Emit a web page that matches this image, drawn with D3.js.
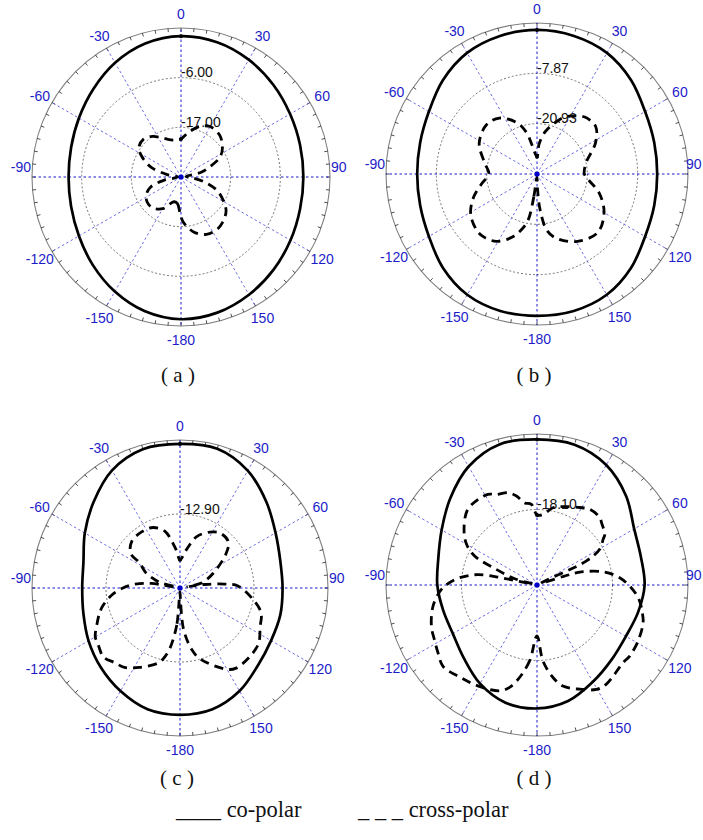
<!DOCTYPE html>
<html><head><meta charset="utf-8">
<script src="https://cdn.jsdelivr.net/npm/d3@7"></script>
<style>body{margin:0;background:#fff} svg{display:block}</style>
</head><body>
<svg id="chart" width="703" height="840"></svg>
<script>
// ---------- data ----------
const angleTicks = [0, 30, 60, 90, 120, 150, -180, -150, -120, -90, -60, -30];
const captions = ["( a )", "( b )", "( c )", "( d )"];
const legendLabels = ["____ co-polar", "_ _ _ cross-polar"];

// radial scale ranges (dB at centre, dB at outer circle) and grid rings (dB)
const domainA = [-28, 5],       ringsA = [-17.00, -6.00];
const domainB = [-33.99, 5.19], ringsB = [-20.93, -7.87];
const domainC = [-30.0, 4.2],   ringsC = [-12.90];
const domainD = [-36.2, 0],     ringsD = [-18.10];

// co-polar (dB), angles in degrees
const coAngles = [0, 15, 30, 45, 60, 75, 90, 105, 120, 135, 150, 165, 180, -165, -150, -135, -120, -105, -90, -75, -60, -45, -30, -15];
const coA = [3.2, 2.9, 2.0, 0.9, -0.1, -0.7, -0.9, -0.7, 0.0, 1.0, 2.1, 3.1, 3.5, 2.8, 1.3, -0.4, -1.9, -2.8, -3.1, -2.8, -1.9, -0.5, 1.2, 2.6];
const coB = [3.4, 3.1, 2.3, 0.5, -1.6, -2.5, -2.8, -2.5, -1.6, 0.5, 2.2, 2.8, 2.8, 2.8, 2.2, 0.5, -1.6, -2.6, -2.9, -2.6, -1.6, 0.5, 2.3, 3.1];
const coC = [3.3, 3.3, 1.3, -1.8, -4.5, -6.0, -6.3, -6.0, -5.7, -4.6, -2.5, -1.0, -0.7, -1.0, -2.5, -4.1, -5.6, -6.9, -7.4, -6.9, -4.6, -1.8, 1.4, 3.2];
const coD = [-1.3, -1.4, -3.0, -6.0, -9.3, -10.4, -10.4, -11.1, -11.6, -10.9, -9.4, -7.4, -6.6, -7.0, -8.9, -11.4, -12.9, -12.9, -12.3, -11.7, -9.8, -6.8, -3.4, -1.3];

// cross-polar (dB)
const crossA_ang = [-178, -172, -164, -150, -137, -126, -116, -108, -101, -90, -80, -72, -62, -55, -45, -35, -25, -15, -5, 0, 10, 20, 30, 43, 55, 63, 70, 77, 85, 95, 102, 110, 119, 127, 137, 146, 156, 166, 173, 178];
const crossA_db  = [-20.3, -22.1, -22.3, -19.9, -18.7, -18.7, -19.5, -21.0, -24.1, -27.3, -24.9, -21.0, -18.1, -16.6, -16.2, -17.0, -18.5, -19.5, -19.8, -19.6, -17.9, -16.1, -15.1, -15.4, -16.8, -18.3, -21.0, -23.4, -26.9, -25.4, -22.7, -19.6, -17.3, -15.5, -14.4, -13.9, -14.1, -15.3, -16.9, -18.3];

const crossB_ang = [-179, -172, -169, -164, -158, -149, -140, -133, -121, -110, -100, -90, -78, -62, -46, -34, -21, -14, -10, 0, 4, 11, 18, 25, 32, 40, 51, 62, 77, 90, 97, 107, 120, 134, 149, 163, 170, 175, 178];
const crossB_db  = [-33.2, -28.0, -21.7, -18.8, -16.2, -13.6, -12.6, -12.6, -13.9, -16.5, -19.4, -21.5, -20.1, -17.0, -15.7, -16.5, -19.8, -23.0, -26.2, -29.5, -26.2, -22.8, -20.4, -17.8, -16.2, -14.7, -14.4, -16.8, -20.9, -21.7, -20.4, -17.1, -13.9, -12.1, -13.6, -16.5, -19.1, -24.6, -30.1];

const crossC_ang = [-178, -175, -170.5, -167, -164, -153, -145, -139, -132, -125.5, -120, -113, -107, -103, -96, -90, -85, -81, -78, -75, -72, -66, -58, -55, -46, -34, -24, -15, -6, 0, 9, 18, 28, 36, 46, 53, 66, 77, 80, 82, 85, 88, 99, 107, 116, 125, 134, 145, 150, 164, 169, 175, 179];
const crossC_db  = [-29.1, -21.4, -15.9, -13.4, -12.0, -9.4, -7.6, -7.1, -6.2, -6.9, -7.4, -9.2, -10.6, -11.7, -14.1, -16.8, -19.6, -23.3, -29.1, -25.6, -24.0, -21.4, -18.9, -16.1, -14.5, -14.3, -14.7, -16.4, -21.0, -23.5, -21.2, -17.5, -15.4, -14.3, -14.5, -16.6, -21.6, -24.9, -28.2, -24.2, -19.6, -16.6, -12.9, -10.4, -9.4, -7.8, -7.4, -7.4, -8.3, -12.9, -15.4, -20.3, -28.6];

const crossD_ang = [-180, -174.5, -169.4, -165, -160.6, -150, -140, -131, -124.6, -118.3, -111.5, -101.8, -94, -90, -85, -80, -78.5, -77, -74.5, -69, -65, -60, -53, -43, -34.5, -28.4, -24.2, -17.4, -13, -8.5, -4, 0, 5, 11.7, 18.4, 28.8, 34.8, 43, 46, 53.2, 55.3, 60.3, 64, 66, 72, 73.6, 79.1, 85, 90.6, 95.4, 98.9, 104.7, 109.6, 119, 127.5, 132, 145, 150.4, 158.5, 165.6, 170.2, 175.5];
const crossD_db  = [-24.0, -18.0, -13.7, -10.8, -9.3, -8.2, -7.4, -6.4, -7.4, -8.3, -9.0, -10.7, -12.8, -14.4, -17.3, -21.8, -27.8, -35.2, -31.0, -25.7, -19.7, -16.7, -14.3, -11.7, -11.3, -11.5, -12.4, -13.0, -14.3, -16.3, -16.8, -19.4, -19.2, -17.3, -16.4, -15.0, -14.1, -14.1, -14.7, -15.9, -16.9, -18.9, -23.0, -35.2, -29.5, -25.1, -19.7, -16.3, -14.0, -12.3, -11.3, -10.1, -9.2, -8.5, -8.2, -8.4, -7.2, -7.4, -9.4, -11.2, -13.7, -17.9];

// ---------- layout ----------
const W = 703;
const panels = [
  {cx: 181, cy: 177, R: 149, domain: domainA, rings: ringsA, co: coA, xa: crossA_ang, xd: crossA_db, cap: captions[0], capY: 382},
  {cx: 537, cy: 174, R: 151, domain: domainB, rings: ringsB, co: coB, xa: crossB_ang, xd: crossB_db, cap: captions[1], capY: 382},
  {cx: 180, cy: 588, R: 148, domain: domainC, rings: ringsC, co: coC, xa: crossC_ang, xd: crossC_db, cap: captions[2], capY: 785},
  {cx: 537, cy: 585, R: 151, domain: domainD, rings: ringsD, co: coD, xa: crossD_ang, xd: crossD_db, cap: captions[3], capY: 785}
];

const svg = d3.select("#chart");
const rad = d => d * Math.PI / 180;
const SANS = "'Liberation Sans', Arial, sans-serif";
const SERIF = "'Liberation Serif', 'Times New Roman', serif";

panels.forEach(p => {
  const g = svg.append("g").attr("transform", `translate(${p.cx},${p.cy})`);
  const r = d3.scaleLinear().domain(p.domain).range([0, p.R]).clamp(true);

  // outer circle
  g.append("circle").attr("r", p.R).attr("fill", "none").attr("stroke", "#808080").attr("stroke-width", 1.1);
  // minor ticks every 5 degrees
  g.selectAll("line.tick").data(d3.range(0, 360, 5)).join("line")
    .attr("x1", d => Math.sin(rad(d)) * p.R).attr("y1", d => -Math.cos(rad(d)) * p.R)
    .attr("x2", d => Math.sin(rad(d)) * (p.R - 3.5)).attr("y2", d => -Math.cos(rad(d)) * (p.R - 3.5))
    .attr("stroke", "#222").attr("stroke-width", 0.8);

  // grid rings
  g.selectAll("circle.ring").data(p.rings).join("circle")
    .attr("r", d => r(d)).attr("fill", "none")
    .attr("stroke", "#555").attr("stroke-width", 0.8).attr("stroke-dasharray", "2,2");

  // spokes
  g.selectAll("line.spoke").data(angleTicks).join("line")
    .attr("x1", 0).attr("y1", 0)
    .attr("x2", d => Math.sin(rad(d)) * p.R).attr("y2", d => -Math.cos(rad(d)) * p.R)
    .attr("stroke", d => (d % 90 === 0) ? "#0000c8" : "#5c5ce0")
    .attr("stroke-width", 0.9).attr("stroke-dasharray", "2.5,2.5");

  // angle labels
  g.selectAll("text.ang").data(angleTicks).join("text")
    .attr("x", d => {
      if (d === 90) return Math.min(p.R + 1, W - 17 - p.cx);
      if (d === -90) return -(p.R + 1);
      return Math.sin(rad(d)) * (p.R + 14);
    })
    .attr("y", d => Math.abs(d) === 90 ? -5 : -Math.cos(rad(d)) * (p.R + 14))
    .attr("text-anchor", d => d === 90 ? "start" : d === -90 ? "end" : "middle")
    .attr("dominant-baseline", d => Math.abs(d) === 90 ? "alphabetic" : "central")
    .attr("font-family", SANS).attr("font-size", 14)
    .attr("fill", "#1c1cc8").text(d => String(d));

  // ring labels
  g.selectAll("text.ringlab").data(p.rings).join("text")
    .attr("x", 0).attr("y", d => -r(d) - 0.5)
    .attr("font-family", SANS).attr("font-size", 14)
    .attr("fill", "#111").text(d => d.toFixed(2));

  const line = d3.lineRadial().angle(d => rad(d[0])).radius(d => r(d[1]))
    .curve(d3.curveCatmullRomClosed.alpha(0.5));

  // co-polar
  const coPts = coAngles.map((a, i) => [a, p.co[i]]);
  g.append("path").attr("d", line(coPts)).attr("fill", "none")
    .attr("stroke", "#000").attr("stroke-width", 2.7).attr("stroke-linejoin", "round");

  // cross-polar
  const xPts = p.xa.map((a, i) => [a, p.xd[i]]);
  g.append("path").attr("d", line(xPts)).attr("fill", "none")
    .attr("stroke", "#000").attr("stroke-width", 2.8).attr("stroke-dasharray", "9,6");

  // markers at 0 degrees
  const co0 = p.co[coAngles.indexOf(0)];
  const x0 = p.xd[p.xa.indexOf(0)];
  [co0, x0].forEach(v => {
    g.append("circle").attr("cx", 0).attr("cy", -r(v)).attr("r", 2).attr("fill", "#000");
  });

  // centre dot
  g.append("circle").attr("r", 2.6).attr("fill", "#0000c8");

  // caption
  svg.append("text").attr("x", p.cx - 3).attr("y", p.capY).attr("text-anchor", "middle")
    .attr("font-family", SERIF).attr("font-size", 21)
    .attr("fill", "#111").text(p.cap);
});

// legend
svg.append("text").attr("x", 176).attr("y", 817)
  .attr("font-family", SERIF).attr("font-size", 22.5)
  .attr("fill", "#111").text(legendLabels[0]);
svg.append("text").attr("x", 358).attr("y", 817)
  .attr("font-family", SERIF).attr("font-size", 22.5)
  .attr("fill", "#111").text(legendLabels[1]);
</script>
</body></html>
